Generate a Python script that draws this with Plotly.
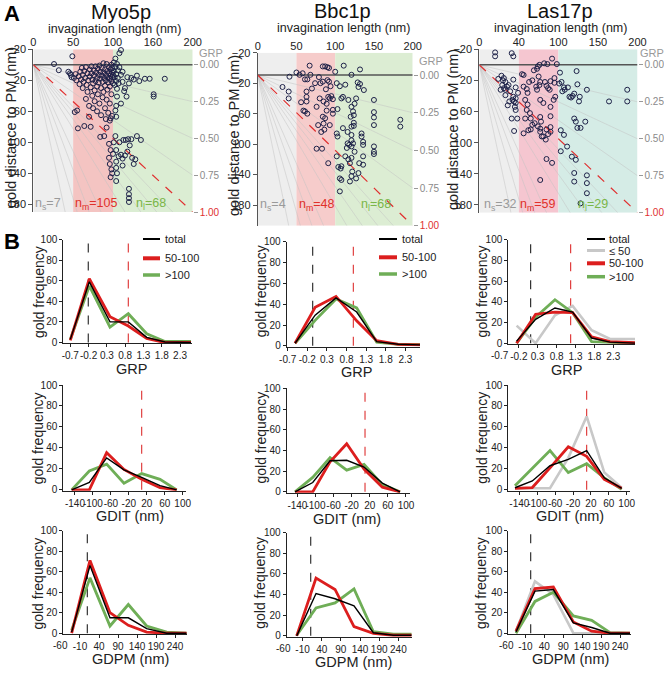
import plotly.graph_objects as go

FONT = "Liberation Sans, Arial, sans-serif"
W, H = 664, 680


def PX(x):
    return x / W


def PY(y):
    return 1 - y / H


# ---------------- Panel A data: invagination length (nm) vs gold distance to PM (nm)
myo_len = [26, 32, 44, 46, 47, 48, 49,
           51, 52, 53, 54, 55, 56, 57, 58, 59, 60,
           61, 62, 62, 63, 64, 64, 65, 66, 66, 67,
           68, 68, 69, 70, 70, 71, 71, 72, 72, 73,
           73, 74, 74, 75, 75, 76, 76, 77, 77, 78,
           78, 79, 80, 80, 80, 81, 81, 82, 82, 83,
           83, 84, 84, 84, 85, 85, 86, 86, 87, 87,
           88, 88, 88, 89, 89, 90, 90, 90, 91, 91,
           92, 92, 92, 93, 93, 93, 94, 94, 95, 95,
           95, 95, 96, 96, 96, 96, 97, 97, 97, 97,
           97, 98, 98, 98, 98, 99, 99, 99, 99, 99,
           100, 100, 100, 96, 91,
           101, 101, 102, 102, 103, 103, 103, 104, 104, 104,
           104, 105, 105, 105, 106, 106, 107, 108, 110, 108,
           110, 112, 112, 115, 117, 118, 120, 123, 126, 130,
           133, 140, 146, 151, 151, 165, 110, 114,
           101, 103, 104, 104, 104, 104, 105, 107, 108, 110,
           112, 113, 115, 116, 118, 119, 120, 120, 120, 120,
           121, 123, 124, 126, 128, 130, 135, 112]
myo_dist = [-1, 7, 9, 11, 13, 16, -11,
            17, 61, 12, 20, 59, 82, 15, 25, 9, 19,
            4, 13, 30, 22, 79, 8, 17, 44, 3, 26,
            11, 35, 20, 53, 67, 6, 15, 29, 80, 2,
            11, 19, 40, 24, 56, 7, 14, 33, 47, 2,
            21, 10, 17, 28, 60, 5, 38, 13, 23, 1,
            50, 9, 18, 93, 30, 65, 4, 14, 22, 42,
            -2, 10, 35, 17, 92, 6, 27, 56, 13, 20,
            -1, 81, 45, 8, 16, 32, 23, 62, 3, 11,
            102, 120, 18, 28, 50, 128, 6, 14, 69, 110,
            145, 0, 21, 38, 135, 10, 16, 66, 140, 4,
            24, 13, 115, 72, 70,
            -3, 8, 16, 26, -8, 3, 59, 12, 21, 53,
            67, -1, 41, 31, 7, 17, 24, -15, -19, 3,
            13, 22, 9, 30, 41, 16, 24, 17, 19, 14,
            21, 18, 18, 38, 41, 18, 50, 34,
            100, 92, 110, 125, 133, 150, 140, 118, 100, 116,
            121, 97, 117, 97, 112, 96, 160, 167, 172, 177,
            104, 96, 120, 128, 122, 92, 97, 130]

bbc_len = [41, 32, 40, 40,
           50, 54, 58, 61, 64, 68, 67, 84, 87, 90,
           92, 74, 81, 79, 84, 90, 92, 94, 63, 63,
           63, 64, 61, 59, 76, 80, 85, 89, 91, 93,
           95, 84, 87, 78, 85, 82, 86, 93, 97, 89,
           76, 83, 91, 97, 97, 88, 70, 56,
           100, 111, 132, 102, 106, 113, 121, 129, 130, 132,
           137, 127, 125, 117, 110, 108, 103, 121, 123, 124,
           120, 150, 121, 124, 110, 150, 150, 150, 184, 184,
           102, 103, 116, 124, 134, 134, 136, 136, 121, 121,
           123, 121, 125, 115, 118, 116, 113, 117, 119, 121,
           150, 150, 150, 136, 136, 131, 102, 104, 107, 108,
           106, 108, 122, 121, 119, 130, 127, 106]
bbc_dist = [11.5, 25, 31, 40,
            6, 9, 7, 15, 15, 9, -3, -2, -2, -1,
            0, 20, 20, 12, 18, 16, 18, 24, 31, 38,
            44, 60, 57, 56, 51, 40, 44, 47, 38, 40,
            37, 64, 66, 75, 73, 84, 81, 75, 60, 56,
            106, 106, 125, 41, 55, 28, 27, 45,
            5, -3, 2, 20, 24, 22, 9, 19, 25, 21,
            29, 40, 47, 42, 38, 40, 54, 51, 57, 62,
            64, 42, 77, 76, 79, 58, 65, 75, 68, 77,
            86, 90, 84, 72, 86, 90, 97, 101, 88, 95,
            99, 103, 110, 105, 101, 99, 116, 120, 125, 118,
            103, 110, 113, 116, 127, 125, 116, 130, 132, 129,
            145, 147, 136, 142, 149, 138, 145, 162]

las_len = [20, 20, 41, 43, 28, 31, 33, 29, 31, 33,
           35, 37, 33, 27, 43, 46, 42, 44, 46, 45,
           46, 41, 48, 44, 43, 46, 38, 36, 30, 24,
           39, 49,
           54, 56, 56, 60, 61, 58, 63, 67, 69, 73,
           74, 76, 75, 77, 72, 73, 76, 77, 81, 83,
           85, 87, 89, 90, 95, 95, 92, 98, 82, 86,
           61, 60, 64, 65, 58, 67, 70, 74, 77, 78,
           77, 77, 79, 81, 85, 87, 84, 90, 90, 85,
           92, 77, 94, 96, 90, 90, 56, 65, 62,
           102, 101, 104, 107, 105, 108, 112, 114, 116, 118,
           120, 123, 124, 127, 126, 136, 120, 122, 124, 128,
           134, 103, 107, 103, 111, 117, 122, 120, 120, 136,
           136, 136, 128, 164, 187, 187]
las_dist = [-16, -11, -15, -11, 14, 17, 22, 26, 30, 32,
            28, 26, 39, 32, 19, 29, 45, 47, 49, 54,
            43, 69, 69, 85, 41, 58, 47, 52, 20, 18,
            34, 36,
            12, 13, 28, 31, 36, 45, 22, 20, 7, 5,
            2, 0, 15, 22, 28, 32, 26, 45, 49, 22,
            27, 30, 32, 21, 23, 17, -8, -1, -2, -1,
            51, 58, 62, 69, 69, 77, 75, 79, 67, 73,
            82, 86, 92, 92, 83, 89, 96, 80, 86, 121,
            126, 148, 45, 41, 54, 66, 88, 83, 84,
            10, 24, 22, 29, 34, 32, 29, 41, 42, 40,
            37, 8, 25, 41, 47, 32, 69, 73, 81, 81,
            73, 84, 90, 111, 105, 118, 122, 139, 150, 142,
            152, 165, 178, 47, 32, 47]

region_bounds = [0, 50, 100, 200]
myo_counts = ["7", "105", "68"]
bbc_counts = ["4", "48", "68"]
las_counts = ["32", "59", "29"]
a_xtickvals = [0, 50, 100, 150, 200]
myo_xticktext = ["0", "50", "100", "160", "200"]
bbc_xticktext = ["0", "50", "100", "150", "200"]
las_xticktext = ["0", "40", "100", "150", "200"]
a_ytickvals = [-20, 20, 60, 100, 140, 180]
grp_tickvals = [0, 0.25, 0.5, 0.75, 1.0]
grp_ticktext = ["0.00", "0.25", "0.50", "0.75", "1.00"]

# plot bottom (nm) and level of the PM line (nm) for each panel, as drawn in the source
a_bottom = [190, 207, 190]
a_pm_level = [0, 9.3, 0]

# GRP isolines: fractions of the panel used as end points
iso_right_frac = [0.25, 0.5, 0.75]                    # end on the right edge at these GRP values
iso_bottom_x = [40, 55, 70, 85, 115, 135, 155, 175]   # end on the bottom edge at these lengths

# ---------------- Panel B data: gold frequency distributions
myo_grp_x = [-0.7, -0.18, 0.385, 0.886, 1.388, 1.889, 2.6]
myo_grp_total = [3, 59, 20, 20, 5, 0.5, 0]
myo_grp_mid = [2, 62, 25, 16, 4, 0, 0]
myo_grp_long = [3, 55, 15, 28, 8.5, 1, 1]

bbc_grp_x = [-0.513, 0.0, 0.532, 1.059, 1.569, 2.121, 2.673]
bbc_grp_total = [2.5, 29.5, 46, 32.5, 4, 1.5, 1]
bbc_grp_mid = [2.5, 37, 47.5, 24, 5, 1.5, 1]
bbc_grp_long = [2.5, 24.5, 45, 36.5, 3.5, 1.5, 1.5]

las_grp_x = [-0.259, 0.244, 0.756, 1.224, 1.727, 2.213, 2.875]
las_grp_total = [2, 23, 34, 30, 5, 1, 0]
las_grp_short = [17, 0, 27, 36, 12.5, 4, 4]
las_grp_mid = [0, 28, 30, 29.5, 6, 1.5, 0.5]
las_grp_long = [0, 25, 42, 29.5, 1.5, 0.7, 0]

myo_gdit_x = [-147.4, -108, -69.4, -30.8, 8.6, 49.5, 86.6]
myo_gdit_total = [0, 7, 30.5, 19, 12, 4, 0]
myo_gdit_mid = [0, 0, 35.5, 19.5, 10, 2, 0]
myo_gdit_long = [0, 18, 24.5, 6.3, 15.5, 10, 0]

bbc_gdit_x = [-145.2, -106.1, -67.8, -31, 7.3, 47.8, 86.8]
bbc_gdit_total = [0, 9, 30, 30.5, 24, 8.5, 0]
bbc_gdit_mid = [0, 0, 29, 46.5, 22, 4.5, 0]
bbc_gdit_long = [0, 14, 33, 21, 26.5, 7, 0]

las_gdit_x = [-149.7, -110.9, -71.4, -30.5, 10.5, 50, 88.8]
las_gdit_total = [2, 8.5, 23, 29, 37.5, 11.5, 1.5]
las_gdit_short = [1.5, 1.5, 1.5, 30.5, 70, 16.5, 2]
las_gdit_mid = [1.5, 2.2, 21, 41, 32, 10, 1.5]
las_gdit_long = [4, 20.5, 37.5, 16.5, 25, 11.5, 0.5]

myo_gdpm_x = [-31.9, 16.3, 68.9, 117.2, 165.4, 218.1, 270.7]
myo_gdpm_total = [1, 66, 15, 15, 4.5, 0, 0]
myo_gdpm_mid = [0, 71, 20, 7.7, 1, 0, 0]
myo_gdpm_long = [3, 54, 7, 28, 7, 1, 0]

bbc_gdpm_x = [-25.2, 25.2, 74.8, 124.3, 174.8, 227, 274.8]
bbc_gdpm_total = [0, 41, 36, 29, 3, 0.6, 0.6]
bbc_gdpm_mid = [0, 56, 45, 9, 2.5, 0.6, 0.6]
bbc_gdpm_long = [0.6, 27, 32, 45.5, 4, 1.6, 1.6]

las_gdpm_x = [-34.9, 15.3, 63.8, 116.7, 165.1, 213.6, 266.4]
las_gdpm_total = [1.3, 41, 42.6, 10, 5.5, 0, 0]
las_gdpm_short = [2, 50.6, 37.7, 0, 0, 0, 0]
las_gdpm_mid = [2, 43.5, 45, 11, 2, 0, 0]
las_gdpm_long = [0, 31, 40, 16.8, 12.6, 0.6, 0]

grp_black_dash = [-0.208, -0.063, 0.112]
grp_red_dash = [0.886, 0.974, 1.171]
gdit_red_dash = [8.6, 9.5, 10.5]
gdpm_black_dash = [9.3, 11.3, 3.9]

grp_ticks = [-0.7, -0.2, 0.3, 0.8, 1.3, 1.8, 2.3]
gdit_ticks = [-140, -100, -60, -20, 20, 60, 100]
gdpm_ticks = [-60, -10, 40, 90, 140, 190, 240]
freq_ticks = [0, 20, 40, 60, 80, 100]

# ---------------- styling
C_RED = "#dc1e1e"
C_GREEN = "#6fae57"
C_GRAY = "#c8c8c8"
C_BLACK = "#000000"


def xname(n):
    return "xaxis" if n == 1 else f"xaxis{n}"


def yname(n):
    return "yaxis" if n == 1 else f"yaxis{n}"


def xr(n):
    return "x" if n == 1 else f"x{n}"


def yr(n):
    return "y" if n == 1 else f"y{n}"


fig = go.Figure()
layout = dict(width=W, height=H, margin=dict(l=0, r=0, t=0, b=0, autoexpand=False),
              paper_bgcolor="white", plot_bgcolor="rgba(0,0,0,0)", showlegend=False,
              font=dict(family=FONT, color="#222"))
shapes = []
annots = []


def ann(text, x, y, size, color="#222", angle=0, xanchor="center", yanchor="middle", bold=False, **kw):
    t = f"<b>{text}</b>" if bold else text
    d = dict(text=t, x=x, y=y, xref=kw.pop("xref", "paper"), yref=kw.pop("yref", "paper"),
             showarrow=False, textangle=angle, xanchor=xanchor, yanchor=yanchor,
             font=dict(family=FONT, size=size, color=color))
    d.update(kw)
    annots.append(d)


# ---------------- Panel A
A_panels = [
    dict(name="Myo5p", lens=myo_len, dists=myo_dist, counts=myo_counts, xtt=myo_xticktext,
         colors=["#eeeeee", "#f4c4c2", "#dbedd3"], xd=(33.3, 192.7), ytop=49.3, pxnm=0.775,
         title=(121, 12), sub=(115, 29), ytx=11, yty=128, grp=(197, 53), nx=[18, 79, 148]),
    dict(name="Bbc1p", lens=bbc_len, dists=bbc_dist, counts=bbc_counts, xtt=bbc_xticktext,
         colors=["#eeeeee", "#f6cccb", "#dcedd3"], xd=(257.7, 412.7), ytop=52.7, pxnm=0.762,
         title=(342, 11), sub=(343, 28), ytx=234, yty=136, grp=(417, 61), nx=[20, 76, 153]),
    dict(name="Las17p", lens=las_len, dists=las_dist, counts=las_counts, xtt=las_xticktext,
         colors=["#eeeeee", "#f5c6d0", "#d5ece6"], xd=(479.3, 637.5), ytop=49.3, pxnm=0.778,
         title=(560, 11), sub=(560, 28), ytx=453, yty=130, grp=(638, 53), nx=[27, 74, 144]),
]
n_colors = ["#9a9a9a", "#e0302a", "#7ab648"]
n_subs = ["s", "m", "l"]

for i, p in enumerate(A_panels, start=1):
    rx = 12 + i
    bot = a_bottom[i - 1]
    pm = a_pm_level[i - 1]
    ybot_px = p["ytop"] + (bot + 20) * p["pxnm"]
    layout[xname(i)] = dict(domain=[PX(p["xd"][0]), PX(p["xd"][1])], range=[0, 200], side="top",
                            anchor=yr(i), tickvals=a_xtickvals, ticktext=p["xtt"], ticks="",
                            showline=False, showgrid=False, zeroline=False, tickangle=0,
                            tickfont=dict(size=11, color="#222"))
    layout[yname(i)] = dict(domain=[PY(ybot_px), PY(p["ytop"])], range=[bot, -20], anchor=xr(i),
                            tickvals=a_ytickvals, ticks="outside", ticklen=4, tickcolor="#555",
                            showline=True, linecolor="#555", linewidth=1, showgrid=False,
                            zeroline=False, tickfont=dict(size=11, color="#222"))
    span = bot - pm
    tt = grp_ticktext[:-1] + ['<span style="color:#e03030">' + grp_ticktext[-1] + "</span>"]
    layout[yname(rx)] = dict(overlaying=yr(i), side="right", anchor=xr(i),
                             range=[1.0, (-20 - pm) / span],
                             tickvals=grp_tickvals, ticktext=tt, ticks="outside", ticklen=4,
                             tickcolor="#999", showline=False, showgrid=False, zeroline=False,
                             tickfont=dict(size=10, color="#8a8a8a"))
    # shaded size classes
    for k in range(3):
        shapes.append(dict(type="rect", xref=xr(i), yref=yr(i), x0=region_bounds[k],
                           x1=region_bounds[k + 1], y0=-20, y1=bot, fillcolor=p["colors"][k],
                           line=dict(width=0), layer="below"))
    # isolines from the origin on the PM line
    for f in iso_right_frac:
        fig.add_trace(go.Scatter(x=[0, 200], y=[pm, pm + f * span], mode="lines", xaxis=xr(i),
                                 yaxis=yr(i), line=dict(color="#c2c2c2", width=0.5), hoverinfo="skip"))
    for xe in iso_bottom_x:
        fig.add_trace(go.Scatter(x=[0, xe], y=[pm, bot], mode="lines", xaxis=xr(i), yaxis=yr(i),
                                 line=dict(color="#c2c2c2", width=0.5), hoverinfo="skip"))
    fig.add_trace(go.Scatter(x=[0, 200], y=[pm, pm], mode="lines", xaxis=xr(i), yaxis=yr(i),
                             line=dict(color="#555", width=1.5), hoverinfo="skip"))
    fig.add_trace(go.Scatter(x=[0, 200], y=[pm, bot], mode="lines", xaxis=xr(i), yaxis=yr(i),
                             line=dict(color="#e03030", width=1.2, dash="dash"), hoverinfo="skip"))
    fig.add_trace(go.Scatter(x=p["lens"], y=p["dists"], mode="markers", xaxis=xr(i), yaxis=yr(i),
                             marker=dict(symbol="circle-open", size=5, color="#1d2148",
                                         line=dict(width=1)), cliponaxis=False))
    # invisible trace so the GRP (right) axis is drawn
    fig.add_trace(go.Scatter(x=[200] * len(grp_tickvals), y=grp_tickvals, mode="markers",
                             xaxis=xr(i), yaxis=yr(rx), marker=dict(opacity=0), hoverinfo="skip"))
    # texts
    ann(p["name"], PX(p["title"][0]), PY(p["title"][1]), 20, "#111")
    ann("invagination length (nm)", PX(p["sub"][0]), PY(p["sub"][1]), 12.5, "#222")
    ann("gold distance to PM (nm)", PX(p["ytx"]), PY(p["yty"]), 14.5, "#222", angle=-90)
    ann("GRP", PX(p["grp"][0]), PY(p["grp"][1]), 11, "#999", xanchor="left")
    for k in range(3):
        ann(f"n<sub>{n_subs[k]}</sub>={p['counts'][k]}", p["nx"][k], 180, 12.5, n_colors[k],
            xref=xr(i), yref=yr(i))

ann("A", PX(12), PY(13), 22, "#000", bold=True)
ann("B", PX(12), PY(241), 22, "#000", bold=True)

# ---------------- Panel B
col_x = [[(63.3, 191.7), (63.3, 186.0), (63.3, 186.7)],
         [(286.7, 420.0), (286.7, 410.0), (286.7, 411.7)],
         [(508.3, 635.0), (508.3, 630.0), (508.3, 630.7)]]
row_y = [[(343.3, 239.7), (490.7, 385.0), (634.0, 530.7)],
         [(346.7, 241.7), (492.7, 388.3), (636.7, 532.7)],
         [(344.0, 239.7), (490.7, 385.0), (634.0, 530.7)]]
x_ranges = [[(-0.891, 2.618), (-166, 107.4), (-53.9, 270.7)],
            [(-0.725, 2.673), (-163.6, 108.9), (-51.3, 274.8)],
            [(-0.479, 2.875), (-164.6, 107.4), (-55.2, 268.2)]]
series = [
    [(myo_grp_x, None, myo_grp_long, myo_grp_mid, myo_grp_total),
     (myo_gdit_x, None, myo_gdit_long, myo_gdit_mid, myo_gdit_total),
     (myo_gdpm_x, None, myo_gdpm_long, myo_gdpm_mid, myo_gdpm_total)],
    [(bbc_grp_x, None, bbc_grp_long, bbc_grp_mid, bbc_grp_total),
     (bbc_gdit_x, None, bbc_gdit_long, bbc_gdit_mid, bbc_gdit_total),
     (bbc_gdpm_x, None, bbc_gdpm_long, bbc_gdpm_mid, bbc_gdpm_total)],
    [(las_grp_x, las_grp_short, las_grp_long, las_grp_mid, las_grp_total),
     (las_gdit_x, las_gdit_short, las_gdit_long, las_gdit_mid, las_gdit_total),
     (las_gdpm_x, las_gdpm_short, las_gdpm_long, las_gdpm_mid, las_gdpm_total)],
]
row_ticks = [grp_ticks, gdit_ticks, gdpm_ticks]
row_titles = ["GRP", "GDIT (nm)", "GDPM (nm)"]
xt_pos = [[(131.7, 368.5), (130, 516), (130, 659)],
          [(356.7, 372), (346.7, 519), (353.3, 662)],
          [(566.7, 370), (570, 516), (570, 659)]]
yt_x = [38.3, 260.5, 481.7]
yt_y = [291.7, 438, 583.3]

n = 4
for c in range(3):
    for r in range(3):
        xd, yd, rng = col_x[c][r], row_y[c][r], x_ranges[c][r]
        ticks = row_ticks[r]
        layout[xname(n)] = dict(domain=[PX(xd[0]), PX(xd[1])], range=list(rng), anchor=yr(n),
                                tickvals=ticks, ticktext=[f"{t:g}" for t in ticks], ticks="outside",
                                ticklen=3, tickcolor="#222", showline=True, linecolor="#222",
                                linewidth=1, showgrid=False, zeroline=False, tickangle=0,
                                tickfont=dict(size=10, color="#222"))
        layout[yname(n)] = dict(domain=[PY(yd[0]), PY(yd[1])], range=[-0.8, 100], anchor=xr(n),
                                tickvals=freq_ticks, ticks="outside", ticklen=3, tickcolor="#222",
                                showline=True, linecolor="#222", linewidth=1, showgrid=False,
                                zeroline=False, tickfont=dict(size=10, color="#222"))
        # tick labels that fall left of the axis line (placed through the axis scale)
        for t in ticks:
            if t < rng[0]:
                px_t = xd[0] + (t - rng[0]) / (rng[1] - rng[0]) * (xd[1] - xd[0])
                ann(f"{t:g}", PX(px_t), PY(yd[0]), 10, "#222", yanchor="top", yshift=-4)
        # dashed reference lines
        if r == 0:
            for v, col in ((grp_black_dash[c], "#333"), (grp_red_dash[c], "#e04040")):
                fig.add_trace(go.Scatter(x=[v, v], y=[0, 100], mode="lines", xaxis=xr(n), yaxis=yr(n),
                                         line=dict(color=col, width=1.2, dash="dash"), hoverinfo="skip"))
        elif r == 1:
            v = gdit_red_dash[c]
            fig.add_trace(go.Scatter(x=[v, v], y=[0, 100], mode="lines", xaxis=xr(n), yaxis=yr(n),
                                     line=dict(color="#e04040", width=1.2, dash="dash"), hoverinfo="skip"))
        else:
            v = gdpm_black_dash[c]
            fig.add_trace(go.Scatter(x=[v, v], y=[0, 100], mode="lines", xaxis=xr(n), yaxis=yr(n),
                                     line=dict(color="#333", width=1.2, dash="dash"), hoverinfo="skip"))
        xs, short, long_, mid, total = series[c][r]
        if short is not None:
            fig.add_trace(go.Scatter(x=xs, y=short, mode="lines", xaxis=xr(n), yaxis=yr(n),
                                     line=dict(color=C_GRAY, width=2.6), hoverinfo="skip"))
        fig.add_trace(go.Scatter(x=xs, y=long_, mode="lines", xaxis=xr(n), yaxis=yr(n),
                                 line=dict(color=C_GREEN, width=2.8), hoverinfo="skip"))
        fig.add_trace(go.Scatter(x=xs, y=mid, mode="lines", xaxis=xr(n), yaxis=yr(n),
                                 line=dict(color=C_RED, width=2.8), hoverinfo="skip"))
        fig.add_trace(go.Scatter(x=xs, y=total, mode="lines", xaxis=xr(n), yaxis=yr(n),
                                 line=dict(color=C_BLACK, width=1.4), hoverinfo="skip"))
        ann(row_titles[r], PX(xt_pos[c][r][0]), PY(xt_pos[c][r][1]), 14.5, "#222")
        ann("gold frequency", PX(yt_x[c]), PY(yt_y[r]), 14, "#222", angle=-90)
        n += 1

# legends of panel B (first row)
leg_specs = [
    ((143, 160), 163, [239, 258.3, 275], ["total", "50-100", ">100"], [C_BLACK, C_RED, C_GREEN], [2, 4, 3.5]),
    ((379, 397), 400, [239, 257.3, 274], ["total", "50-100", ">100"], [C_BLACK, C_RED, C_GREEN], [2, 4, 3.5]),
    ((587, 605), 606.5, [239, 250.5, 263.3, 276.7], ["total", "≤ 50", "50-100", ">100"],
     [C_BLACK, C_GRAY, C_RED, C_GREEN], [2, 3, 4, 3.5]),
]
for (lx0, lx1), tx, ys, labels, cols, widths in leg_specs:
    for yy, lab, col, wd in zip(ys, labels, cols, widths):
        shapes.append(dict(type="line", xref="paper", yref="paper", x0=PX(lx0), x1=PX(lx1),
                           y0=PY(yy), y1=PY(yy), line=dict(color=col, width=wd)))
        ann(lab, PX(tx), PY(yy), 11, "#222", xanchor="left")

layout["shapes"] = shapes
layout["annotations"] = annots
fig.update_layout(**layout)
fig.write_html("out.html", config={"displayModeBar": False},
               post_script="document.body.style.margin='0';document.body.style.overflow='hidden';")
